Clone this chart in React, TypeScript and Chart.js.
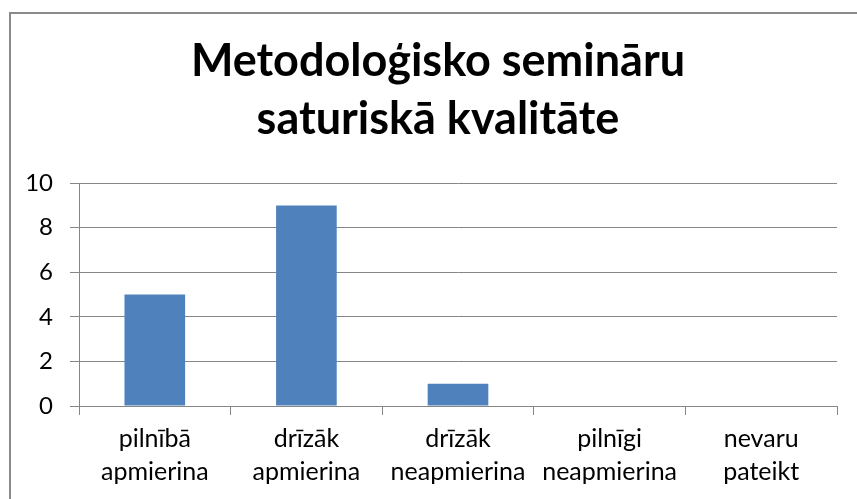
import React, { useEffect, useRef } from "react";
import { Chart, registerables } from "chart.js";

Chart.register(...registerables);

const titleLines = ["Metodoloģisko semināru", "saturiskā kvalitāte"];
const categories = [
  ["pilnībā", "apmierina"],
  ["drīzāk", "apmierina"],
  ["drīzāk", "neapmierina"],
  ["pilnīgi", "neapmierina"],
  ["nevaru", "pateikt"],
];
const values = [5, 9, 1, 0, 0];
const yMin = 0;
const yMax = 10;
const yStep = 2;

const W = 857;
const H = 499;

export default function App() {
  const ref = useRef<HTMLCanvasElement | null>(null);

  useEffect(() => {
    if (!ref.current) return;
    const chart = new Chart(ref.current, {
      type: "bar",
      data: {
        labels: categories,
        datasets: [
          {
            data: values,
            backgroundColor: "#4F81BD",
            borderWidth: 0,
            barPercentage: 0.4,
            categoryPercentage: 1.0,
          },
        ],
      },
      options: {
        responsive: false,
        animation: false,
        devicePixelRatio: 1,
        layout: { padding: { left: 19, right: 0, top: 0, bottom: 0 } },
        plugins: {
          legend: { display: false },
          tooltip: { enabled: false },
          title: {
            display: true,
            text: titleLines,
            color: "#000000",
            font: { family: "Lato", size: 45, weight: "bold", lineHeight: 1.29 },
            padding: { top: 32, bottom: 35 },
          },
        },
        scales: {
          x: {
            grid: {
              display: true,
              drawOnChartArea: false,
              drawTicks: true,
              tickLength: 9,
              color: "#868686",
              offset: true,
            },
            border: { display: true, color: "#868686", width: 1 },
            ticks: {
              color: "#000000",
              font: { family: "Lato", size: 25, lineHeight: 1.3 },
              padding: 8,
              maxRotation: 0,
              autoSkip: false,
            },
            afterFit: (scale: any) => {
              scale.height = H - 406;
            },
          },
          y: {
            min: yMin,
            max: yMax,
            ticks: {
              stepSize: yStep,
              color: "#000000",
              font: { family: "Lato", size: 24 },
              padding: 17,
            },
            grid: {
              color: "#868686",
              tickLength: 9,
              drawTicks: true,
            },
            border: { display: true, color: "#868686", width: 1 },
            afterFit: (scale: any) => {
              scale.width = 60;
            },
          },
          yRight: {
            position: "right",
            display: true,
            grid: { display: false },
            border: { display: false },
            ticks: { display: false },
            afterFit: (scale: any) => {
              scale.width = 20;
            },
          },
        },
      },
    });
    return () => chart.destroy();
  }, []);

  return (
    <div
      style={{
        position: "fixed",
        left: 0,
        top: 0,
        width: W,
        height: H,
        overflow: "hidden",
        background: "#ffffff",
      }}
    >
      <div
        style={{
          position: "absolute",
          left: 9,
          top: 12,
          width: 1000,
          height: 1000,
          border: "2px solid #8a8a8a",
          boxSizing: "border-box",
        }}
      />
      <canvas
        ref={ref}
        width={W}
        height={H}
        style={{ position: "absolute", left: 0, top: 0, width: W, height: H }}
      />
    </div>
  );
}
